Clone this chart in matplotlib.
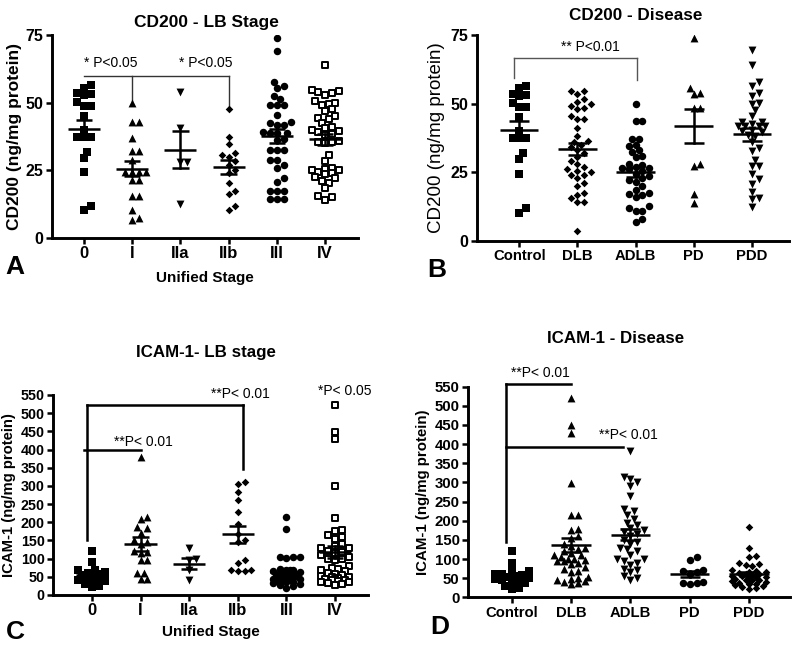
import numpy as np
import matplotlib
matplotlib.use('Agg')
import matplotlib.pyplot as plt

plt.rcParams['font.family'] = ['Liberation Sans', 'DejaVu Sans']

# ---------------- data ----------------
stage_cats = ['0', 'I', 'IIa', 'IIb', 'III', 'IV']
disease_cats = ['Control', 'DLB', 'ADLB', 'PD', 'PDD']

# CD200 by LB stage (ng/mg protein)
cd200_s0 = [53.5, 55.6, 52.9, 56.5, 53.1, 48.9, 50.3, 48.9, 45.2, 40.0, 37.3, 37.3, 37.3, 31.9, 29.7, 24.3, 10.2, 12.0]
cd200_sI = [49.8, 43.0, 43.0, 36.8, 32.2, 32.2, 28.8, 24.5, 24.5, 24.5, 24.5, 21.4, 21.4, 15.6, 15.6, 10.3, 7.5, 6.5]
cd200_sIIa = [54.0, 40.5, 28.0, 28.0, 12.6]
cd200_sIIb = [47.8, 37.2, 34.6, 31.4, 30.5, 30.0, 28.5, 27.0, 25.0, 24.0, 20.3, 17.5, 16.3, 11.8, 10.5]
cd200_sIII = [73.8, 69.1, 57.5, 56.1, 55.5, 52.5, 51.3, 49.1, 49.1, 49.1, 45.4, 43.0, 42.5, 41.7, 41.7, 39.3,
              38.7, 38.7, 38.7, 36.2, 36.5, 32.5, 32.5, 32.5, 28.8, 28.8, 27.0, 26.0, 22.0, 20.8, 17.5, 17.5,
              17.5, 14.4, 14.4, 14.4]
cd200_sIV = [63.8, 54.2, 53.8, 53.5, 53.0, 54.5, 50.5, 50.0, 49.5, 49.0, 47.5, 47.0, 45.0, 44.5, 44.0, 42.5,
             41.0, 40.5, 40.0, 39.5, 39.0, 38.5, 38.0, 36.0, 35.5, 35.0, 35.5, 30.5, 28.5, 26.0, 25.5, 25.0,
             25.0, 24.5, 24.0, 23.5, 22.5, 22.0, 21.0, 20.5, 18.5, 15.5, 15.0, 14.0]

# CD200 by disease
cd200_control = [53.5, 55.6, 52.9, 56.5, 53.1, 48.9, 50.3, 48.9, 45.2, 40.0, 37.3, 37.3, 37.3, 31.9, 29.7, 24.3, 10.2, 12.0]
cd200_dlb = [54.5, 53.5, 54.5, 51.5, 50.5, 50.0, 49.0, 48.5, 48.0, 45.5, 44.5, 44.5, 41.0, 38.0, 36.5, 36.0,
             35.0, 34.0, 33.0, 32.0, 30.5, 29.0, 28.0, 27.0, 26.0, 25.5, 25.0, 24.0, 24.0, 23.0, 21.0, 20.0,
             17.5, 16.5, 15.5, 14.0, 14.0, 3.5]
cd200_adlb = [50.0, 43.5, 43.5, 37.0, 37.0, 35.0, 34.5, 33.0, 32.5, 31.0, 30.5, 27.0, 26.5, 28.0, 27.5, 26.5,
              26.0, 25.5, 24.5, 23.5, 23.0, 22.0, 21.5, 20.0, 18.5, 17.5, 17.0, 16.5, 16.0, 12.5, 12.0, 11.0,
              11.0, 8.0, 7.0]
cd200_pd = [74.0, 55.6, 53.4, 54.0, 48.5, 48.3, 27.9, 27.4, 16.9, 13.6]
cd200_pdd = [69.5, 64.1, 58.0, 56.5, 52.8, 53.8, 49.7, 50.1, 47.7, 45.6, 43.4, 42.5, 42.0, 42.0, 42.0, 41.8,
             43.4, 40.0, 39.5, 40.5, 38.5, 38.0, 35.9, 32.7, 33.9, 27.4, 27.4, 29.4, 24.2, 22.5, 20.6, 17.9,
             15.5, 12.4, 15.2]

# ICAM-1 by LB stage
icam_s0 = [120, 90, 70, 68, 62, 60, 58, 55, 52, 50, 48, 45, 42, 40, 38, 30, 25, 22]
icam_sI = [380, 215, 210, 188, 183, 171, 150, 147, 140, 120, 117, 115, 96, 96, 60, 60, 45, 43]
icam_sIIa = [128, 98, 95, 68, 42]
icam_sIIb = [310, 305, 282, 262, 228, 195, 168, 150, 145, 97, 88, 70, 68, 67, 65]
icam_sIII = [215, 182, 105, 105, 105, 103, 70, 65, 60, 55, 50, 72, 70, 68, 65, 62, 60, 58, 56, 55, 52, 50,
             48, 46, 45, 44, 42, 40, 38, 36, 35, 32, 30, 28, 25, 20]
icam_sIV = [522, 448, 430, 300, 213, 178, 175, 165, 160, 155, 140, 135, 130, 128, 120, 118, 115, 110, 105,
            100, 98, 95, 80, 75, 72, 70, 65, 60, 58, 55, 52, 50, 50, 48, 45, 45, 42, 40, 38, 36, 35, 32,
            30, 28]

# ICAM-1 by disease
icam_control = [120, 90, 70, 68, 62, 60, 58, 55, 52, 50, 48, 45, 42, 40, 38, 30, 25, 22]
icam_dlb = [520, 450, 428, 298, 215, 215, 178, 175, 160, 155, 140, 135, 130, 125, 120, 115, 110, 100, 98,
            95, 110, 105, 100, 95, 90, 88, 68, 65, 80, 75, 52, 50, 48, 45, 42, 40, 38, 35]
icam_adlb = [382, 315, 310, 300, 290, 265, 230, 225, 215, 205, 195, 190, 180, 175, 170, 165, 160, 150, 145,
             140, 130, 125, 120, 110, 100, 100, 95, 90, 85, 75, 70, 65, 55, 50, 45]
icam_pd = [106, 97, 72, 68, 65, 62, 40, 38, 37, 35]
icam_pdd = [183, 128, 108, 105, 90, 88, 85, 82, 70, 68, 66, 65, 64, 62, 60, 58, 56, 55, 54, 52, 50, 48,
            46, 45, 44, 42, 40, 38, 36, 35, 32, 30, 28, 25, 22]

W, H = 800, 649
fig = plt.figure(figsize=(8, 6.49), dpi=100)


def fpos(l, r, top, bot):
    return [l / W, 1 - bot / H, (r - l) / W, (bot - top) / H]


def style_axes(ax, cats, yticks, ylim, xlim, xfs, yfs):
    ax.set_xlim(*xlim)
    ax.set_ylim(*ylim)
    for s in ['top', 'right']:
        ax.spines[s].set_visible(False)
    for s in ['left', 'bottom']:
        ax.spines[s].set_linewidth(2.1)
    ax.set_xticks(range(len(cats)))
    ax.set_xticklabels(cats, fontweight='bold', fontsize=xfs)
    ax.set_yticks(yticks)
    ax.set_yticklabels([str(v) for v in yticks], fontweight='bold', fontsize=yfs)
    ax.tick_params(axis='both', direction='out', length=4, width=1.8, pad=2)
    ax.set_facecolor('none')


def swarm(ax, xc, vals, diam, maxw):
    vals = np.asarray(vals, float)
    t = ax.transData
    sx = t.transform((1, 0))[0] - t.transform((0, 0))[0]
    sy = t.transform((0, 1))[1] - t.transform((0, 0))[1]
    order = np.argsort(vals)
    placed = []
    xs = np.zeros(len(vals))
    cands = [0.0]
    k = 1
    while k * diam * 0.5 <= maxw:
        cands += [k * diam * 0.5, -k * diam * 0.5]
        k += 1
    for i in order:
        ypx = vals[i] * sy
        best_c, best_d = 0.0, -1.0
        for c in cands:
            dmin = 1e9
            for (px, py) in placed:
                d = np.hypot(px - c, py - ypx)
                if d < dmin:
                    dmin = d
            if dmin >= diam * 0.92:
                best_c, best_d = c, dmin
                break
            if dmin > best_d + 0.5:
                best_c, best_d = c, dmin
        placed.append((best_c, ypx))
        xs[i] = xc + best_c / sx
    return xs


def draw_groups(ax, groups, markers, diam, maxw, sizes):
    for i, (vals, m) in enumerate(zip(groups, markers)):
        xs = swarm(ax, i, vals, diam, maxw)
        if m == 'open':
            ax.scatter(xs, vals, marker='s', s=sizes['s'] * 0.9, facecolor='white', edgecolor='black',
                       linewidth=1.4, zorder=3)
        else:
            ax.scatter(xs, vals, marker=m, s=sizes[m], color='black', linewidth=0, zorder=3)
        v = np.asarray(vals, float)
        mean = v.mean()
        sem = v.std(ddof=1) / np.sqrt(len(v))
        ax.plot([i - 0.33, i + 0.33], [mean, mean], color='black', lw=1.8, zorder=4, solid_capstyle='butt')
        ax.plot([i - 0.17, i + 0.17], [mean + sem] * 2, color='black', lw=1.8, zorder=4, solid_capstyle='butt')
        ax.plot([i - 0.17, i + 0.17], [mean - sem] * 2, color='black', lw=1.8, zorder=4, solid_capstyle='butt')
        ax.plot([i, i], [mean - sem, mean + sem], color='black', lw=1.8, zorder=4)


sizes = {'s': 27, '^': 32, 'v': 32, 'D': 15, 'o': 29}

# ---------------- Panel A ----------------
axA = fig.add_axes(fpos(52, 358, 35, 238))
style_axes(axA, stage_cats, [0, 25, 50, 75], (0, 75), (-0.66, 5.68), 12, 11.5)
draw_groups(axA, [cd200_s0, cd200_sI, cd200_sIIa, cd200_sIIb, cd200_sIII, cd200_sIV],
            ['s', '^', 'v', 'D', 'o', 'open'], 6.8, 16, sizes)
axA.plot([0, 3], [59.9, 59.9], color='#333333', lw=1.0, zorder=2)
axA.plot([1, 1], [59.9, 50.7], color='#333333', lw=1.0, zorder=2)
axA.plot([3, 3], [59.9, 48.8], color='#333333', lw=1.0, zorder=2)
axA.text(0.55, 64.6, '* P<0.05', ha='center', va='center', fontsize=10)
axA.text(2.53, 64.6, '* P<0.05', ha='center', va='center', fontsize=10)
axA.set_ylabel('CD200 (ng/mg protein)', fontweight='bold', fontsize=12.5, labelpad=3)
axA.set_xlabel('Unified Stage', fontweight='bold', fontsize=11, labelpad=7)

# ---------------- Panel B ----------------
axB = fig.add_axes(fpos(477, 789, 35, 240.7))
style_axes(axB, disease_cats, [0, 25, 50, 75], (0, 75), (-0.728, 4.64), 10.7, 11.5)
draw_groups(axB, [cd200_control, cd200_dlb, cd200_adlb, cd200_pd, cd200_pdd],
            ['s', 'D', 'o', '^', 'v'], 6.8, 17, sizes)
axB.plot([-0.1, 2.03], [66.7, 66.7], color='#555555', lw=1.0, zorder=2)
axB.plot([-0.1, -0.1], [66.7, 59.5], color='#555555', lw=1.0, zorder=2)
axB.plot([2.03, 2.03], [66.7, 58.6], color='#555555', lw=1.0, zorder=2)
axB.text(1.22, 70.6, '** P<0.01', ha='center', va='center', fontsize=10)
axB.set_ylabel('CD200 (ng/mg protein)', fontsize=13.5, labelpad=4)

# ---------------- Panel C ----------------
axC = fig.add_axes(fpos(53, 368, 395, 595))
style_axes(axC, stage_cats, list(range(0, 551, 50)), (0, 550), (-0.80, 5.68), 12, 10.3)
draw_groups(axC, [icam_s0, icam_sI, icam_sIIa, icam_sIIb, icam_sIII, icam_sIV],
            ['s', '^', 'v', 'D', 'o', 'open'], 6.8, 15, sizes)
axC.plot([-0.1, 3.1], [522, 522], color='black', lw=1.8, zorder=2)
axC.plot([-0.1, -0.1], [522, 151], color='black', lw=1.8, zorder=2)
axC.plot([3.1, 3.1], [522, 346], color='black', lw=1.8, zorder=2)
axC.plot([-0.16, 1.0], [399, 399], color='black', lw=1.8, zorder=2)
axC.text(1.05, 422, '**P< 0.01', ha='center', va='center', fontsize=10)
axC.text(3.05, 553, '**P< 0.01', ha='center', va='center', fontsize=10, clip_on=False)
axC.text(5.2, 562, '*P< 0.05', ha='center', va='center', fontsize=10, clip_on=False)
axC.set_ylabel('ICAM-1 (ng/mg protein)', fontweight='bold', fontsize=10.7, labelpad=3)
axC.set_xlabel('Unified Stage', fontweight='bold', fontsize=11, labelpad=5)

# ---------------- Panel D ----------------
axD = fig.add_axes(fpos(468, 790, 386.7, 597.3))
style_axes(axD, disease_cats, list(range(0, 551, 50)), (0, 550), (-0.737, 4.69), 10.7, 10.8)
draw_groups(axD, [icam_control, icam_dlb, icam_adlb, icam_pd, icam_pdd],
            ['s', '^', 'v', 'o', 'D'], 6.8, 18, sizes)
axD.plot([-0.1, 1.0], [556, 556], color='black', lw=1.8, zorder=2, clip_on=False)
axD.plot([-0.1, -0.1], [556, 145], color='black', lw=1.8, zorder=2, clip_on=False)
axD.plot([-0.1, 1.88], [393, 393], color='black', lw=1.8, zorder=2)
axD.text(0.48, 585, '**P< 0.01', ha='center', va='center', fontsize=10, clip_on=False)
axD.text(1.97, 424, '**P< 0.01', ha='center', va='center', fontsize=10)
axD.set_ylabel('ICAM-1 (ng/mg protein)', fontweight='bold', fontsize=10.8, labelpad=3)

# ---------------- titles and panel letters ----------------
fig.text(206 / W, 1 - 23 / H, 'CD200 - LB Stage', ha='center', va='center', fontweight='bold', fontsize=12.5)
fig.text(636 / W, 1 - 15 / H, 'CD200 - Disease', ha='center', va='center', fontweight='bold', fontsize=12.3)
fig.text(206 / W, 1 - 353 / H, 'ICAM-1- LB stage', ha='center', va='center', fontweight='bold', fontsize=12.2)
fig.text(616 / W, 1 - 338 / H, 'ICAM-1 - Disease', ha='center', va='center', fontweight='bold', fontsize=12.2)

fig.text(15 / W, 1 - 267 / H, 'A', ha='center', va='center', fontweight='bold', fontsize=19)
fig.text(437 / W, 1 - 270 / H, 'B', ha='center', va='center', fontweight='bold', fontsize=19)
fig.text(15 / W, 1 - 632 / H, 'C', ha='center', va='center', fontweight='bold', fontsize=19)
fig.text(440 / W, 1 - 627 / H, 'D', ha='center', va='center', fontweight='bold', fontsize=19)

fig.savefig('out.png', dpi=100)
